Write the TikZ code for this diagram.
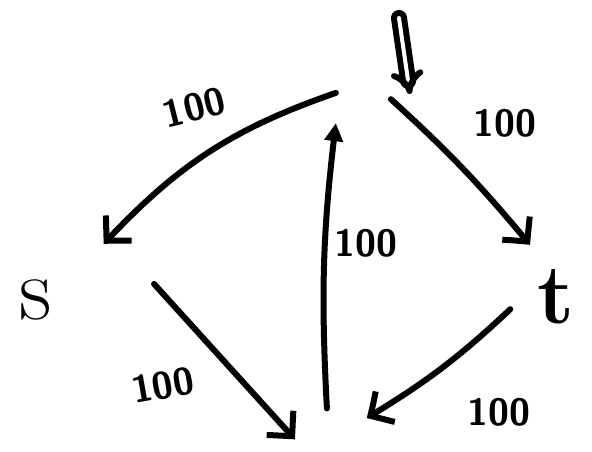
\documentclass[tikz,border=0pt]{standalone}
\usepackage{fontspec}
\usetikzlibrary{arrows.meta,bending,positioning}

\tikzset{
  vtx/.style={circle,minimum size=#1,inner sep=0pt},
  edge/.style={line width=6pt,line cap=round,line join=round,-{Straight Barb[length=18pt,width=36pt,bend]}},
  wt/.style={font=\sffamily\bfseries\fontsize{38}{38}\selectfont,inner sep=1pt},
}

\begin{document}
\begin{tikzpicture}[x=1pt,y=-1pt,line cap=round,line join=round]
	\useasboundingbox (0,0) rectangle (592,452);
	\node [vtx=60pt] (u) at (362,108) {};
	\node [vtx=64pt] (sv) at (128,265) {};
	\node [vtx=70pt] (tv) at (530,280) {};
	\node [vtx=76pt] (w) at (333,436) {};
	\node (s) at (36,300) {\fontsize{90}{90}\selectfont s};
	\node (t) at (556,297) {\fontsize{85}{85}\selectfont\bfseries t};
	\coordinate (in1) at (399,18);
	\coordinate (in2) at (410,94);
	%% edges
	\draw [edge] (u.150) to[bend right=14] node[wt,pos=0.55,above=34pt,rotate=14] {100} (sv.139);
	\draw [edge] (u.17) to[bend left=4] node[wt,above right=28pt and 6pt] {100} (tv.90);
	\draw [edge] (sv.-36) -- node[wt,below left=0pt and 30pt,rotate=10] {100} (w.185);
	\draw [edge] (tv.236) to[bend left=6] node[wt,pos=0.95,below right=-18pt and 88pt] {100} (w.28);
	\draw [line width=6pt,-{Triangle[length=18pt,width=18pt]},shorten <=-10pt] (w.100) to[bend left=5] node[wt,pos=0.57,right=6pt] {100} (u.210);
	%% input arrow
	\draw [line width=6pt,double,double distance=4pt,-{Implies}] (in1) -- (in2);
\end{tikzpicture}
\end{document}
